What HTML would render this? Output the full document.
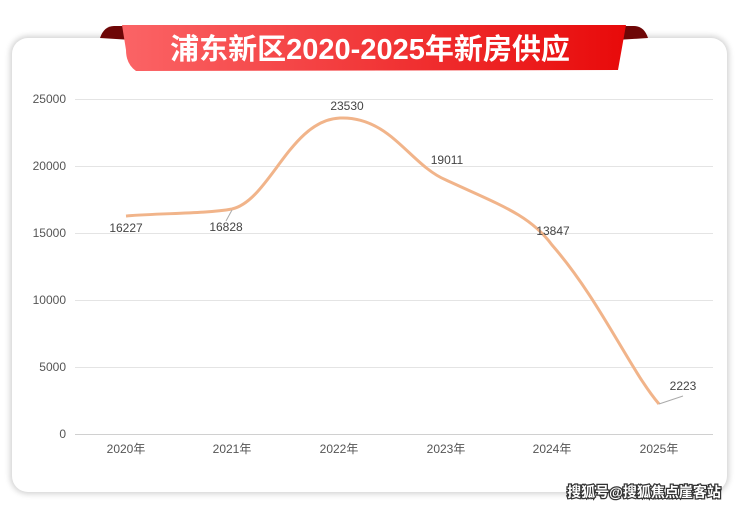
<!DOCTYPE html>
<html><head><meta charset="utf-8"><style>
body{margin:0;width:740px;height:509px;background:#fff;overflow:hidden;position:relative;font-family:"Liberation Sans","Noto Sans CJK SC",sans-serif}
.card{position:absolute;left:12px;top:38px;width:715px;height:454px;border-radius:16px;background:#fff;box-shadow:0 0 6px 2px rgba(0,0,0,0.18)}
</style></head><body>
<div class="card"></div>
<svg width="740" height="509" style="position:absolute;left:0;top:0">
<defs><linearGradient id="g" x1="0" x2="1"><stop offset="0" stop-color="#fb6466"/><stop offset="1" stop-color="#e80a0a"/></linearGradient></defs>
<path d="M100 38 Q104 26 114 26 L132 26 L132 40 Z" fill="#6e0707"/>
<path d="M648 38 Q644 26 634 26 L616 26 L616 40 Z" fill="#6e0707"/>
<path d="M122 25 L626 25 L618 70 L136 71 Q126 64 126 50 Z" fill="url(#g)"/>
<text x="370" y="59" text-anchor="middle" font-size="29" font-weight="bold" fill="#fff" font-family="Liberation Sans,'Noto Sans CJK SC',sans-serif">浦东新区2020-2025年新房供应</text>
<g stroke="#e4e4e4" stroke-width="1">
<line x1="75" x2="713" y1="99.5" y2="99.5"/><line x1="75" x2="713" y1="166.5" y2="166.5"/><line x1="75" x2="713" y1="233.5" y2="233.5"/><line x1="75" x2="713" y1="300.5" y2="300.5"/><line x1="75" x2="713" y1="367.5" y2="367.5"/></g>
<line x1="75" x2="713" y1="434.5" y2="434.5" stroke="#d0d0d0"/>
<g font-size="12" fill="#555" text-anchor="end">
<text x="66" y="103">25000</text><text x="66" y="170">20000</text><text x="66" y="237">15000</text><text x="66" y="304">10000</text><text x="66" y="371">5000</text><text x="66" y="438">0</text></g>
<g font-size="12" fill="#555" text-anchor="middle">
<text x="126" y="453">2020年</text><text x="232" y="453">2021年</text><text x="339" y="453">2022年</text><text x="446" y="453">2023年</text><text x="552" y="453">2024年</text><text x="659" y="453">2025年</text></g>
<path d="M126 216 C160 213 205 214 232 209 C270 200 290 120 340 118 C390 116 410 165 446 180 C500 205 530 215 552 245 C600 300 630 370 659 404" fill="none" stroke="#f1b48a" stroke-width="3"/>
<g stroke="#aaa" stroke-width="1"><line x1="232" y1="210" x2="226" y2="221"/><line x1="659" y1="404" x2="683" y2="396"/></g>
<g font-size="12" fill="#444" text-anchor="middle">
<text x="126" y="232">16227</text><text x="226" y="231">16828</text><text x="347" y="110">23530</text><text x="447" y="164">19011</text><text x="553" y="235">13847</text><text x="683" y="390">2223</text></g>
<text x="644" y="497" text-anchor="middle" font-size="14" font-weight="bold" fill="#fff" stroke="#333" stroke-width="2.5" paint-order="stroke">搜狐号@搜狐焦点崖客站</text>
</svg>
</body></html>
